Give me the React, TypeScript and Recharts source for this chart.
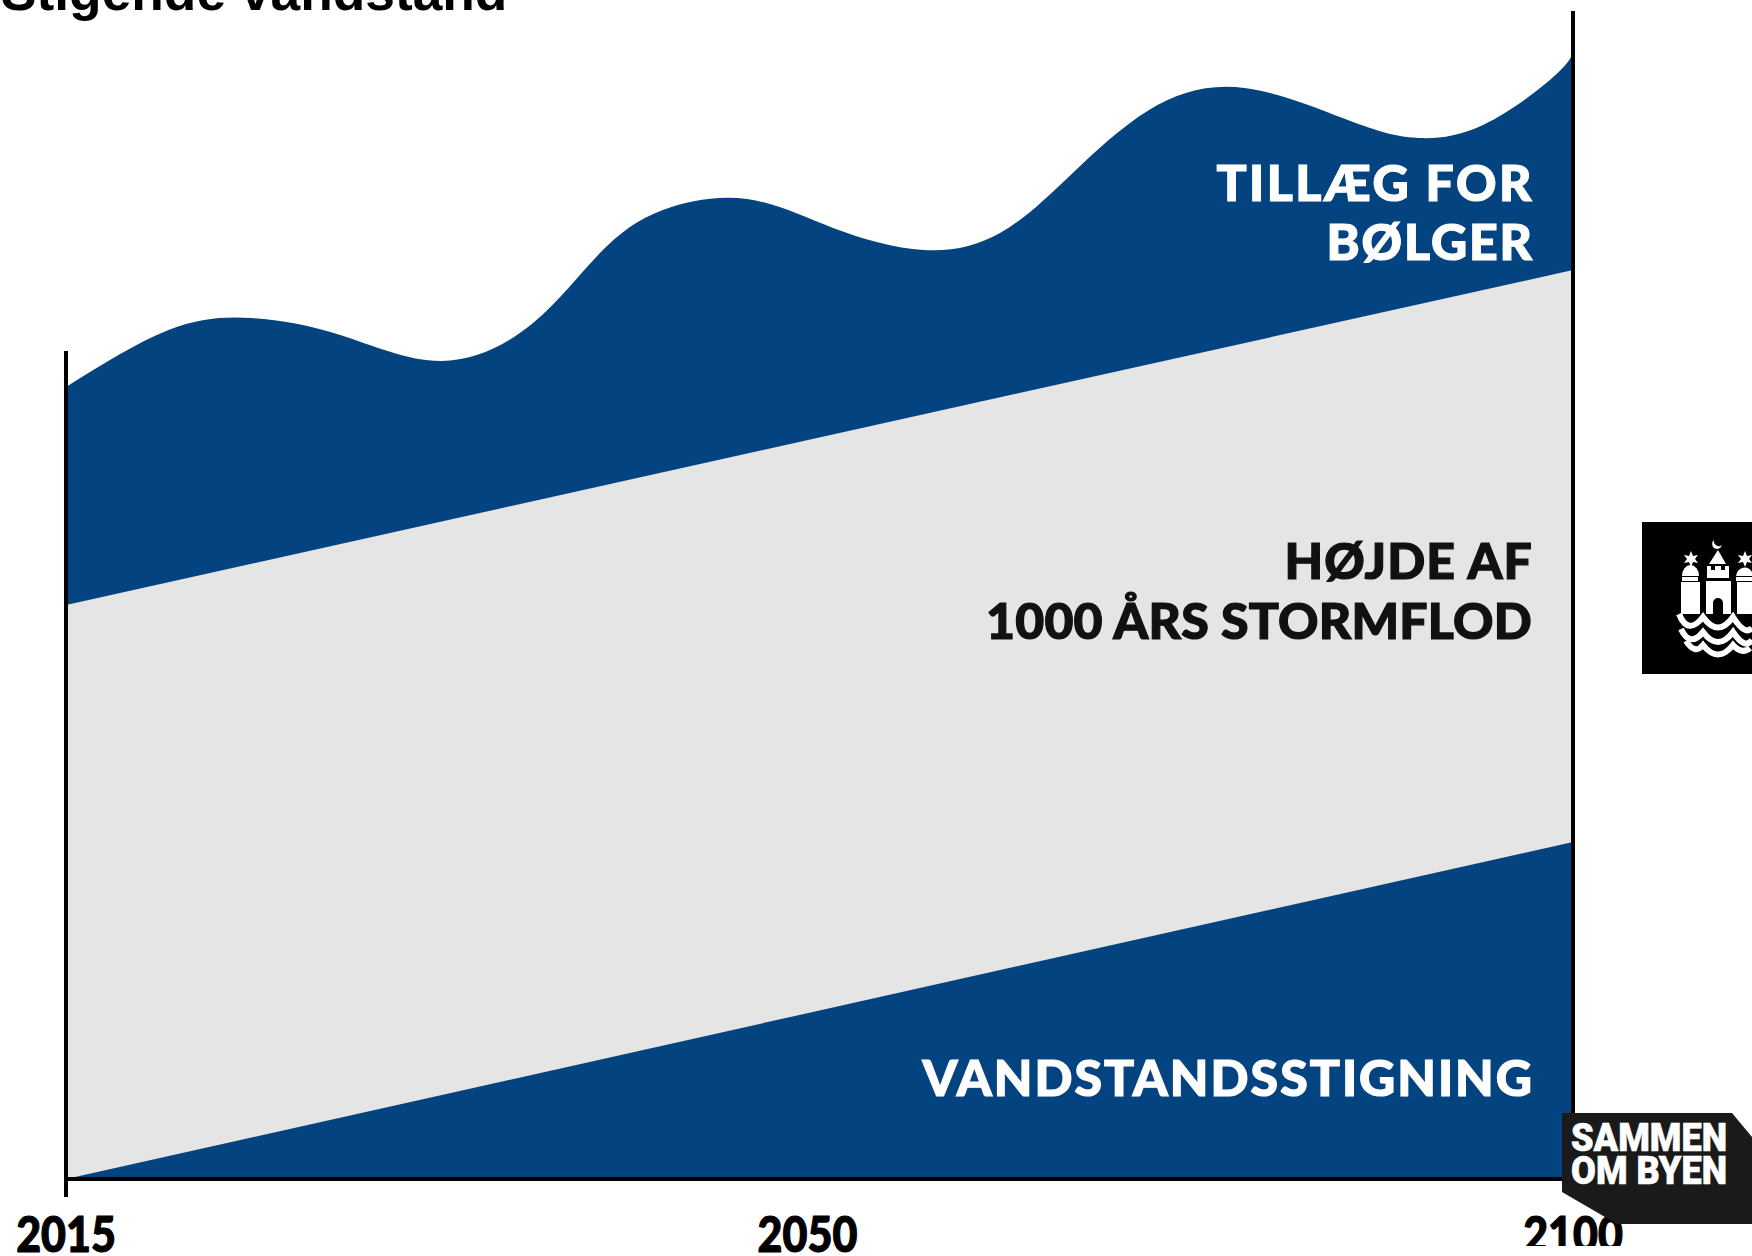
import { AreaChart, Area, XAxis, YAxis, ReferenceLine } from 'recharts';

const WIDTH = 1752;
const HEIGHT = 1256;
const BLUE = '#03437f';
const GREY = '#e5e5e5';

// position along the axis in percent of its length (the picture's axis is not linear in years)
const positions = [0, 6.8, 12.3, 18.2, 24.9, 30.99, 35.43, 39.6, 45.2, 50.9, 56.9, 61.98, 66.6, 71.87, 78.2, 85.4, 89.8, 94.03, 98.47, 100];
// heights above the baseline
const waves = [792, 849, 861, 844, 818, 856, 926, 969, 980, 951, 929, 946, 1003, 1069, 1091, 1057, 1041, 1054, 1099, 1125];
// the two straight bands only have readings at their ends
const stormTopEnds = [574, 909];
const seaRiseEnds = [0, 337];

const tickPositions = [0, 49.2, 100];
const tickLabels = ['2015', '2050', '2100'];

const lastIndex = positions.length - 1;
const data = positions.map((pos, i) => ({
  pos,
  waves: waves[i],
  stormTop: i === 0 ? stormTopEnds[0] : i === lastIndex ? stormTopEnds[1] : null,
  seaRise: i === 0 ? seaRiseEnds[0] : i === lastIndex ? seaRiseEnds[1] : null,
}));

const YearTick = ({ x, payload }: any) => (
  <text
    transform={`translate(${x},1252) scale(0.86,1)`}
    textAnchor='middle'
    fontFamily='Lato'
    fontWeight={900}
    fontSize={50}
    fill='#000'
    stroke='#000'
    strokeWidth={1.2}
  >
    {tickLabels[tickPositions.indexOf(payload.value)]}
  </text>
);

const labelStyle = { fontFamily: 'Lato', fontWeight: 900, fontSize: 50 };

const App = () => {
  return (
    <div style={{ position: 'absolute', left: 0, top: 0, width: WIDTH, height: HEIGHT, background: '#fff', overflow: 'hidden' }}>
      <AreaChart width={WIDTH} height={HEIGHT} data={data} margin={{ top: 0, right: 179, bottom: 0, left: 66 }}>
        <XAxis
          dataKey='pos'
          type='number'
          domain={[0, 100]}
          ticks={tickPositions}
          height={77}
          interval={0}
          tickLine={false}
          axisLine={false}
          tick={<YearTick />}
        />
        <YAxis hide domain={[0, 1179]} />
        <Area type='natural' dataKey='waves' stroke='none' fill={BLUE} fillOpacity={1} isAnimationActive={false} />
        <Area type='linear' dataKey='stormTop' connectNulls stroke='none' fill={GREY} fillOpacity={1} isAnimationActive={false} />
        <Area type='linear' dataKey='seaRise' connectNulls stroke='none' fill={BLUE} fillOpacity={1} isAnimationActive={false} />
        <ReferenceLine y={0} stroke='#000' strokeWidth={4} />
        <ReferenceLine segment={[{ x: 0, y: -18 }, { x: 0, y: 828 }]} stroke='#000' strokeWidth={4} ifOverflow='visible' />
        <ReferenceLine segment={[{ x: 100, y: 0 }, { x: 100, y: 1168 }]} stroke='#000' strokeWidth={4} ifOverflow='visible' />
      </AreaChart>

      <svg width={WIDTH} height={HEIGHT} style={{ position: 'absolute', left: 0, top: 0 }}>
        <text x={1} y={10} fontFamily='Liberation Sans' fontWeight={700} fontSize={53.3} fill='#000'>Stigende vandstand</text>

        <g textAnchor='end' style={labelStyle} strokeWidth={1.2}>
          <text x={1534} y={201} fill='#fff' stroke='#fff' letterSpacing={2.5}>TILLÆG FOR</text>
          <text x={1534} y={260} fill='#fff' stroke='#fff' letterSpacing={1.9}>BØLGER</text>
          <text x={1533} y={579} fill='#111' stroke='#111' letterSpacing={1.1}>HØJDE AF</text>
          <text x={1532} y={639} fill='#111' stroke='#111' letterSpacing={0.2}>1000 ÅRS STORMFLOD</text>
          <text x={1534} y={1096} fill='#fff' stroke='#fff' letterSpacing={2}>VANDSTANDSSTIGNING</text>
        </g>

        <rect x={1515} y={1246} width={115} height={10} fill='#fff' />

        <polygon points='1562,1113 1732,1113 1752,1137 1752,1224 1617,1224 1562,1192' fill='#1a1a1a' />
        <g fontFamily='Roboto' fontWeight={900} fontSize={38} fill='#fff' stroke='#fff' strokeWidth={0.6}>
          <text x={1571} y={1151} textLength={156} lengthAdjust='spacingAndGlyphs'>SAMMEN</text>
          <text x={1571} y={1184} textLength={156} lengthAdjust='spacingAndGlyphs'>OM BYEN</text>
        </g>

        <rect x={1642} y={522} width={110} height={152} fill='#000' />
        <g fill='#fff'>
          {/* centre tower */}
          <path d='M1718 550 L1726 564 H1709 Z' />
          <path d='M1707 566 h4 v4 h4 v-4 h6 v4 h4 v-4 h4 v12 h-22 Z' />
          <path d='M1706 581 H1731 V614 H1723 V603 a5 5 0 0 0 -10 0 V614 H1706 Z' />
          <path d='M1714 540 a5 5 0 1 0 8 5 a5 5 0 0 1 -8 -5 Z' />
          {/* left tower */}
          <path d='M1682 576 a8.5 11 0 0 1 17 0 Z' />
          <rect x={1682} y={577} width={16} height={4} />
          <rect x={1681} y={582} width={19} height={32} />
          <path d='M1691 551 L1693 556 L1698 555 L1695 559 L1698 563 L1693 562 L1691 567 L1689 562 L1684 563 L1687 559 L1684 555 L1689 556 Z' />
          {/* right tower */}
          <path d='M1736 576 a9 11 0 0 1 16 -4 V576 Z' />
          <rect x={1736} y={577} width={16} height={4} />
          <rect x={1737} y={582} width={15} height={32} />
          <path d='M1745 551 L1747 556 L1752 555 L1749 559 L1752 563 L1747 562 L1745 567 L1743 562 L1738 563 L1741 559 L1738 555 L1743 556 Z' />
        </g>
        <g fill='none' stroke='#fff' strokeWidth={6}>
          <path d='M1679 614 Q1688 636 1703 617 Q1718 638 1733 617 Q1745 636 1752 628' />
          <path d='M1681 629 Q1690 648 1703 632 Q1718 652 1733 632 Q1745 650 1752 640' />
          <path d='M1686 641 Q1695 655 1703 645 Q1718 664 1733 645 Q1742 655 1750 648' />
        </g>
      </svg>
    </div>
  );
};

export default App;
